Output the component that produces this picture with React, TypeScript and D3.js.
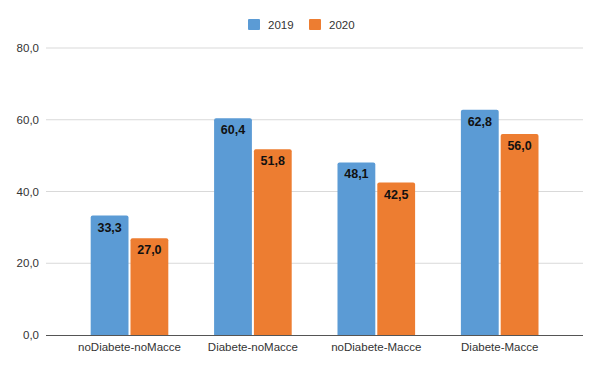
import React, { useRef, useEffect } from "react";
import * as d3 from "d3";

const width = 602;
const height = 372;

const categories = ["noDiabete-noMacce", "Diabete-noMacce", "noDiabete-Macce", "Diabete-Macce"];
const seriesNames = ["2019", "2020"];
const values2019 = [33.3, 60.4, 48.1, 62.8];
const values2020 = [27.0, 51.8, 42.5, 56.0];
const yTicks = [0, 20, 40, 60, 80];
const colors = ["#5B9BD5", "#ED7D31"];

const fmt = (v: number) => v.toFixed(1).replace(".", ",");

export default function App() {
  const ref = useRef<SVGSVGElement>(null);

  useEffect(() => {
    if (!ref.current) return;
    const svg = d3.select(ref.current);
    svg.selectAll("*").remove();

    const rows = categories.map((c, i) => ({ cat: c, vals: [values2019[i], values2020[i]] }));

    const plotLeft = 46;
    const plotRight = 583;

    const x = d3.scaleBand()
      .domain(categories)
      .range([67.8, 561.4])
      .paddingInner(0.371)
      .paddingOuter(0.1855);

    const xs = d3.scaleBand()
      .domain(seriesNames)
      .range([0, x.bandwidth()])
      .paddingInner(0.05);

    const y = d3.scaleLinear().domain([0, 80]).range([335, 48]);

    const font = "'Liberation Sans', Arial, sans-serif";

    // gridlines
    svg.append("g")
      .selectAll("line")
      .data(yTicks.filter(t => t > 0))
      .join("line")
      .attr("x1", plotLeft)
      .attr("x2", plotRight)
      .attr("y1", d => y(d))
      .attr("y2", d => y(d))
      .attr("stroke", "#d9d9d9")
      .attr("stroke-width", 1);

    // y labels
    svg.append("g")
      .selectAll("text")
      .data(yTicks)
      .join("text")
      .attr("x", 39)
      .attr("y", d => y(d))
      .attr("dy", "0.35em")
      .attr("text-anchor", "end")
      .attr("font-family", font)
      .attr("font-size", 11.5)
      .attr("fill", "#333")
      .text(d => fmt(d));

    // bars
    const groups = svg.append("g")
      .selectAll("g")
      .data(rows)
      .join("g")
      .attr("transform", d => `translate(${x(d.cat)},0)`);

    groups.selectAll("path")
      .data(d => d.vals.map((v, i) => ({ key: seriesNames[i], v, i })))
      .join("path")
      .attr("d", d => {
        const x0 = xs(d.key)!;
        const w = xs.bandwidth();
        const top = y(d.v);
        const bot = y(0);
        const r = 2;
        return `M${x0},${bot}V${top + r}Q${x0},${top} ${x0 + r},${top}H${x0 + w - r}Q${x0 + w},${top} ${x0 + w},${top + r}V${bot}Z`;
      })
      .attr("fill", d => colors[d.i]);

    groups.selectAll("text")
      .data(d => d.vals.map((v, i) => ({ key: seriesNames[i], v, i })))
      .join("text")
      .attr("x", d => xs(d.key)! + xs.bandwidth() / 2)
      .attr("y", d => y(d.v) + 16)
      .attr("text-anchor", "middle")
      .attr("font-family", font)
      .attr("font-weight", "bold")
      .attr("font-size", 12.5)
      .attr("fill", "#111")
      .text(d => fmt(d.v));

    // x axis line
    svg.append("line")
      .attr("x1", plotLeft)
      .attr("x2", plotRight)
      .attr("y1", y(0) + 0.5)
      .attr("y2", y(0) + 0.5)
      .attr("stroke", "#555")
      .attr("stroke-width", 1);

    // x labels
    svg.append("g")
      .selectAll("text")
      .data(categories)
      .join("text")
      .attr("x", d => x(d)! + x.bandwidth() / 2)
      .attr("y", 347)
      .attr("dy", "0.35em")
      .attr("text-anchor", "middle")
      .attr("font-family", font)
      .attr("font-size", 11.5)
      .attr("fill", "#333")
      .text(d => d);

    // legend
    const legendX = [248, 309];
    const legend = svg.append("g")
      .selectAll("g")
      .data(seriesNames)
      .join("g")
      .attr("transform", (d, i) => `translate(${legendX[i]},19)`);
    legend.append("rect")
      .attr("width", 12)
      .attr("height", 11)
      .attr("rx", 1)
      .attr("fill", (d, i) => colors[i]);
    legend.append("text")
      .attr("x", 20)
      .attr("y", 5.5)
      .attr("dy", "0.35em")
      .attr("font-family", font)
      .attr("font-size", 11.5)
      .attr("fill", "#333")
      .text(d => d);
  }, []);

  return (
    <svg
      ref={ref}
      width={width}
      height={height}
      style={{ position: "absolute", left: 0, top: 0, background: "#fff" }}
    />
  );
}
